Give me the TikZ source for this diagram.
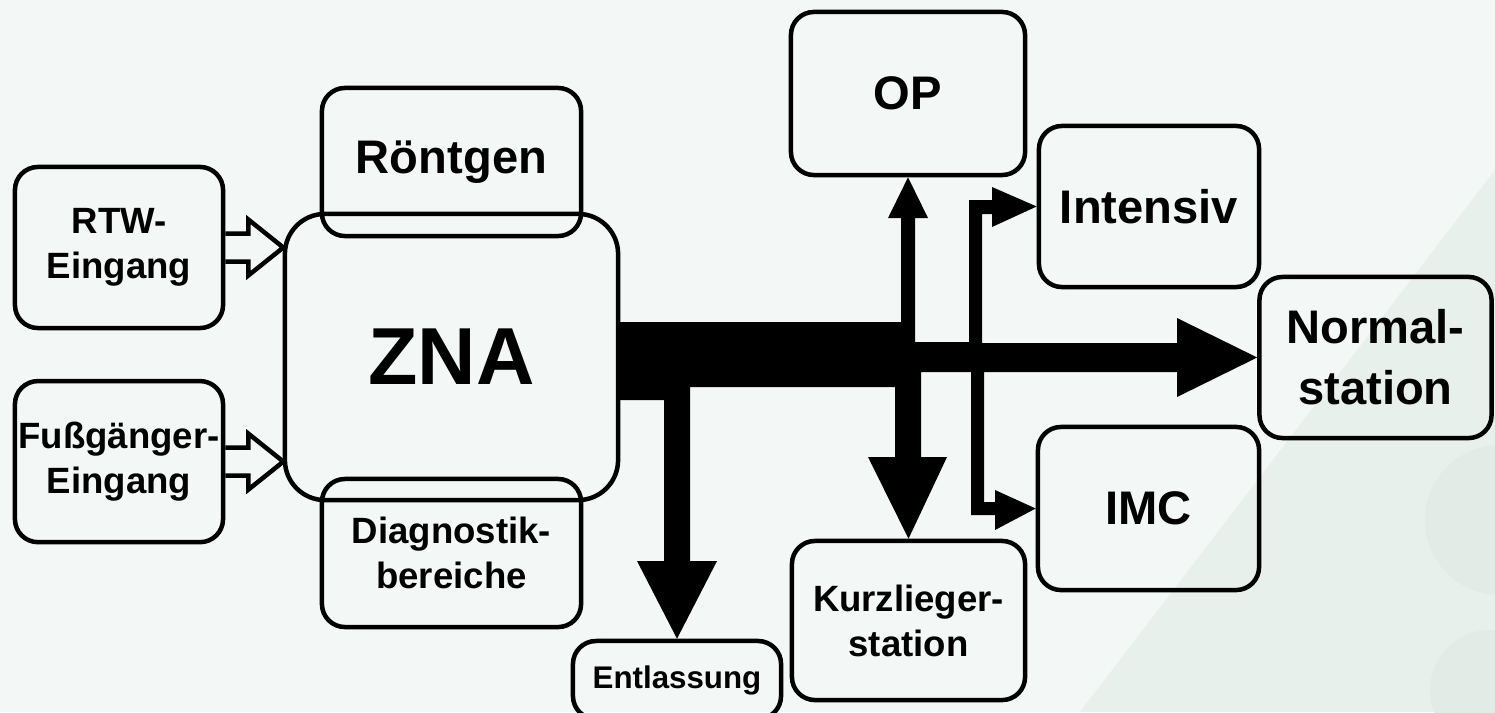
\documentclass[tikz,border=0pt]{standalone}
\usepackage{fontspec}
\setmainfont{Liberation Sans}
\usetikzlibrary{positioning}

\definecolor{bgcol}{HTML}{F3F7F5}
\definecolor{wmark}{HTML}{E8F0EB}
\definecolor{wmarkdk}{HTML}{E2EBE6}

\tikzset{
  box/.style={draw, line width=0.045cm, rounded corners=0.23cm, align=center,
    inner sep=0pt, font=\bfseries\fontsize{10.4}{12.8}\selectfont},
  bigbox/.style={box, font=\bfseries\fontsize{13.4}{17.4}\selectfont},
  hollow/.style={draw, line width=0.045cm},
  flow/.style={fill=black},
}

\begin{document}
\begin{tikzpicture}[x=0.01cm, y=-0.01cm]
  \useasboundingbox (0,0) rectangle (1495,712);
  \clip (0,0) rectangle (1495,712);
  \fill[bgcol] (0,0) rectangle (1495,712);
  % faint logo in the background
  \fill[wmark] (1080,712) -- (1495,170) -- (1495,712) -- cycle;
  \fill[wmarkdk] (1500,520) circle (75);
  \fill[wmarkdk] (1490,690) circle (60);

  % entrances
  \node [box, minimum width=2.08cm, minimum height=1.61cm] (rtw) at (119,247.5) {RTW-\\Eingang};
  \node [box, minimum width=2.08cm, minimum height=1.61cm, below=0.485cm of rtw] (fuss) {Fußgänger-\\Eingang};

  % emergency department with its attached areas
  \node [box, rounded corners=0.4cm, minimum width=3.33cm, minimum height=2.86cm,
    font=\bfseries\fontsize{23}{27}\selectfont] (zna) at (451.5,357) {ZNA};
  \node [bigbox, minimum width=2.59cm, minimum height=1.48cm] (roent) at (451.5,162) {Röntgen};
  \node [box, minimum width=2.59cm, minimum height=1.48cm] (diag) at (451.5,553) {Diagnostik-\\bereiche};

  % targets
  \node [bigbox, minimum width=2.34cm, minimum height=1.63cm] (op) at (908,93.5) {OP};
  \node [bigbox, minimum width=2.20cm, minimum height=1.61cm] (intens) at (1149,206.5) {Intensiv};
  \node [bigbox, minimum width=2.32cm, minimum height=1.61cm] (normal) at (1375.5,357.5) {Normal-\\station};
  \node [bigbox, minimum width=2.21cm, minimum height=1.63cm] (imc) at (1148.5,508.5) {IMC};
  \node [box, minimum width=2.33cm, minimum height=1.59cm] (kurz) at (908.5,620.5) {Kurzlieger-\\station};
  \node [box, minimum width=2.08cm, minimum height=0.78cm,
    font=\bfseries\fontsize{8.9}{11}\selectfont] (entl) at (677,680) {Entlassung};

  % hollow arrows into the ZNA
  \foreach \src in {rtw, fuss}
    \draw [hollow] (\src.east) ++(0,-14) -- ++(23,0) -- ++(0,-14) -- ++(35,28)
      -- ++(-35,28) -- ++(0,-14) -- ++(-23,0);

  % patient flow out of the ZNA
  \fill [flow] (618,322) -- (901,322) -- (901,218) -- (888,218) -- (op.south)
    -- (928,218) -- (915,218) -- (915,342) -- (969,342) -- (969,200) -- (992,200)
    -- (992,187) -- (intens.west) -- (992,227) -- (992,214) -- (982,214) -- (982,343)
    -- (1177,343) -- (1177,318) -- (normal.west) -- (1177,397) -- (1177,372)
    -- (984,372) -- (984,502) -- (995,502) -- (995,490) -- (imc.west) -- (995,530)
    -- (995,515) -- (971,515) -- (971,372) -- (921,372) -- (921,457) -- (947,457)
    -- (kurz.north) -- (868,457) -- (895,457) -- (895,387) -- (690,387) -- (690,561)
    -- (717,561) -- (entl.north) -- (637,561) -- (664,561) -- (664,400) -- (618,400)
    -- cycle;
\end{tikzpicture}
\end{document}
